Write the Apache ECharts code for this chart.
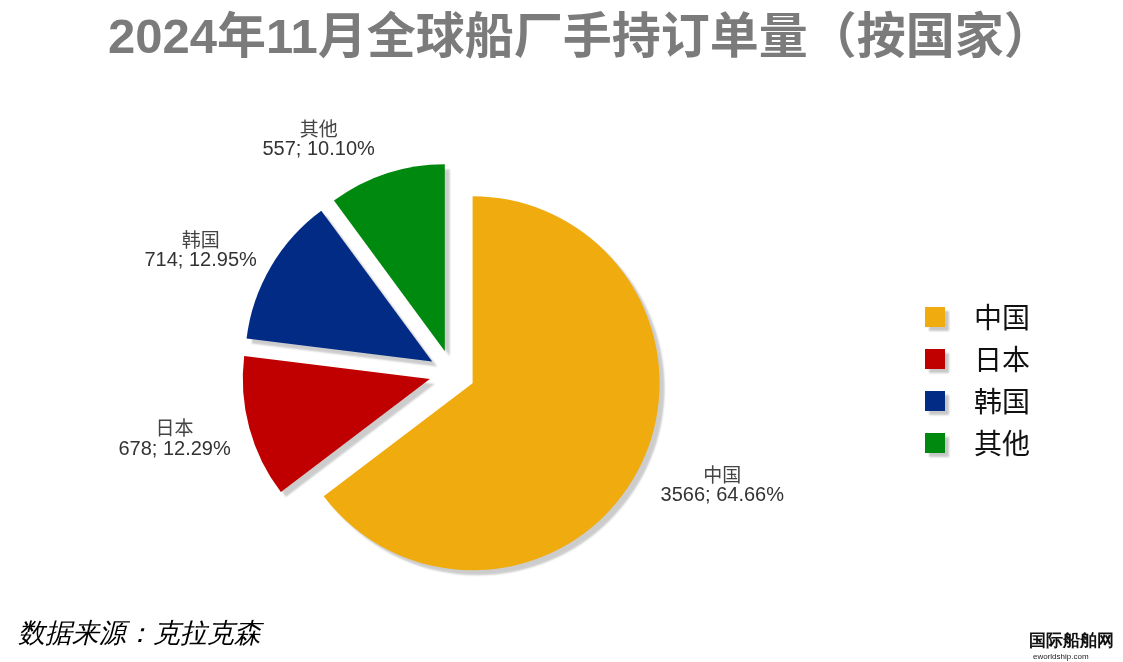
<!DOCTYPE html>
<html>
<head>
<meta charset="utf-8">
<script src="https://cdn.jsdelivr.net/npm/echarts@6/dist/echarts.min.js"></script>
<style>html,body{margin:0;padding:0;background:#fff}#c{width:1123px;height:662px}</style>
</head>
<body>
<div id="c"></div>
<script>
const titleText = '2024年11月全球船厂手持订单量（按国家）';
const categories = ['中国', '日本', '韩国', '其他'];
const values = [3566, 678, 714, 557];
const colors = ['#F0AB0F', '#C00000', '#012B85', '#00890F'];
const sourceText = '数据来源：克拉克森';

const chart = echarts.init(document.getElementById('c'), null, {renderer: 'canvas'});
const labelShift = [[-13, 12], [16, 7], [19, -9], [13, -20]];
chart.setOption({
  animation: false,
  backgroundColor: '#fff',
  title: {
    text: titleText,
    left: 103,
    top: 10,
    textStyle: {fontSize: 49, fontWeight: 'bold', color: '#7b7b7b', fontFamily: '"Liberation Sans","Noto Sans CJK SC",sans-serif'}
  },
  legend: {
    orient: 'vertical',
    left: 920,
    top: 298,
    icon: 'rect',
    itemWidth: 20,
    itemHeight: 20,
    itemGap: 14,
    selectedMode: false,
    data: categories,
    itemStyle: {shadowColor: 'rgba(0,0,0,0.22)', shadowBlur: 2, shadowOffsetX: 4, shadowOffsetY: 4},
    textStyle: {fontSize: 28, color: '#111', padding: [0, 0, 0, 24], fontFamily: '"Noto Sans CJK SC",sans-serif'}
  },
  series: [{
    type: 'pie',
    center: [452, 373],
    radius: 187,
    startAngle: 90,
    clockwise: true,
    selectedMode: 'multiple',
    selectedOffset: 23,
    avoidLabelOverlap: false,
    emphasis: {disabled: true},
    select: {itemStyle: {}},
    itemStyle: {shadowColor: 'rgba(0,0,0,0.2)', shadowBlur: 2, shadowOffsetX: 5, shadowOffsetY: 5},
    label: {
      show: true,
      position: 'outside',
      formatter: p => '{n|' + p.name + '}\n{v|' + p.value + '; ' + p.percent.toFixed(2) + '%}',
      align: 'center',
      rich: {
        n: {fontSize: 19, color: '#444', fontFamily: '"Noto Sans CJK SC",serif', align: 'center', lineHeight: 21},
        v: {fontSize: 20, color: '#333', fontFamily: '"Liberation Sans",Arial,sans-serif', align: 'center', lineHeight: 21}
      }
    },
    labelLine: {show: false, length: 15, length2: 15},
    labelLayout: p => ({dx: labelShift[p.dataIndex][0], dy: labelShift[p.dataIndex][1]}),
    data: categories.map((c, i) => ({name: c, value: values[i], selected: true, itemStyle: {color: colors[i]}}))
  }],
  graphic: [
    {type: 'text', left: 18, top: 621, style: {text: sourceText, fontSize: 27, fontStyle: 'italic', fill: '#000', font: 'italic 27px "Noto Sans CJK SC"'}},
    {type: 'text', left: 1029, top: 633, style: {text: '国际船舶网', fontSize: 17, fontWeight: 'bold', fill: '#111', font: 'bold 17px "Noto Sans CJK SC"'}},
    {type: 'text', left: 1033, top: 653, style: {text: 'eworldship.com', fontSize: 8, fill: '#222', font: 'italic 8px "DejaVu Sans"'}}
  ]
});
</script>
</body>
</html>
